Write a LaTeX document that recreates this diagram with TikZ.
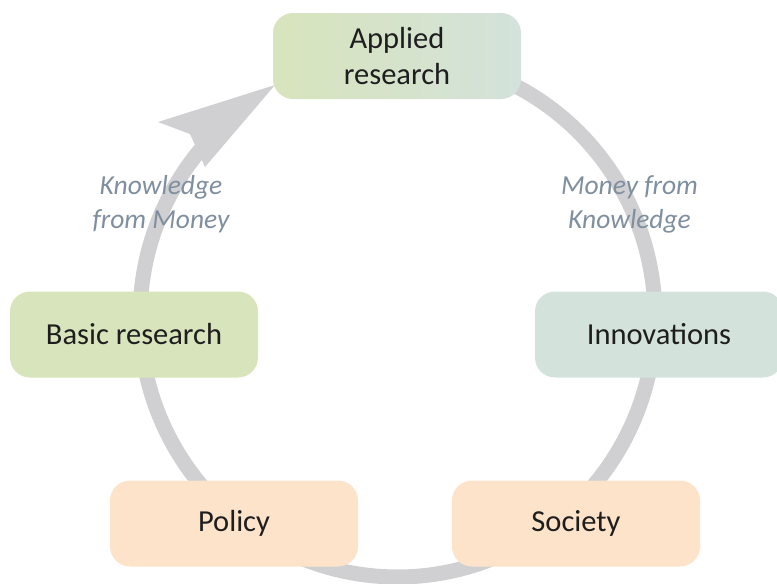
\documentclass[tikz,border=0pt]{standalone}
\usepackage{fontspec}
\setmainfont{Carlito}
\definecolor{ringgrey}{HTML}{D0D0D2}
\definecolor{greenbox}{HTML}{D8E4BC}
\definecolor{tealbox}{HTML}{D3E2DB}
\definecolor{peachbox}{HTML}{FCE3C9}
\definecolor{textdark}{HTML}{1E1E1E}
\definecolor{lblcol}{HTML}{7F8FA0}
\begin{document}
\begin{tikzpicture}[x=1pt,y=-1pt,
  box/.style={rectangle, rounded corners=20pt, minimum width=248pt, minimum height=86pt,
    inner sep=0pt, align=center, text=textdark, font=\fontsize{30.5}{36.6}\selectfont},
  lbl/.style={align=center, text=lblcol, font=\fontsize{27.5}{34}\selectfont\itshape},
  ring/.style={draw=ringgrey, line width=15pt}]
\useasboundingbox (0,0) rectangle (777,584);
\clip (0,0) rectangle (777,584);
% cycle ring
\draw[ring] plot[domain=-90:222, samples=240, smooth] ({397.5+257.5*cos(\x)},{317+260*sin(\x)});
% arrow head
\fill[ringgrey] (275,85) -- (158,122) -- (190,134) -- (205,167) -- cycle;
% boxes
\node[box, left color=greenbox, right color=tealbox] (applied) at (397,56) {Applied\\research};
\node[box, fill=greenbox] (basic) at (134,334.5) {Basic research};
\node[box, fill=tealbox] (innov) at (659,334.5) {Innovations};
\node[box, fill=peachbox] (policy) at (234,523.5) {Policy};
\node[box, fill=peachbox] (society) at (576,523.5) {Society};
% labels
\node[lbl] (kfm) at (161,204) {Knowledge\\from Money};
\node[lbl] (mfk) at (629.5,204) {Money from\\Knowledge};
\end{tikzpicture}
\end{document}
